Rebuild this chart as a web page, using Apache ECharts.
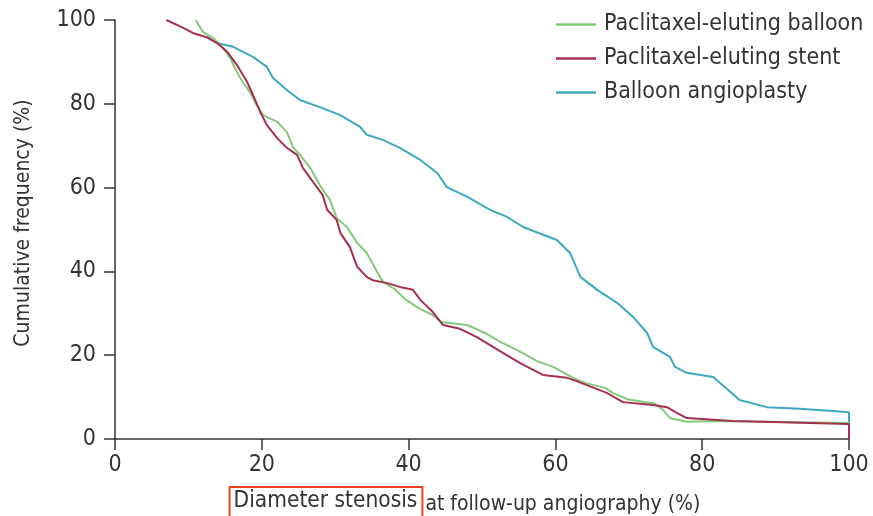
<!DOCTYPE html>
<html>
<head>
<meta charset="utf-8">
<script src="https://cdn.jsdelivr.net/npm/echarts@6/dist/echarts.min.js"></script>
<style>
  html, body { margin: 0; padding: 0; background: #ffffff; }
  #chart { width: 873px; height: 516px; }
</style>
</head>
<body>
<div id="chart"></div>
<script>
// Cumulative frequency of diameter stenosis at follow-up angiography
const seriesNames = ['Paclitaxel-eluting balloon', 'Paclitaxel-eluting stent', 'Balloon angioplasty'];
const axisTicks = [0, 20, 40, 60, 80, 100];

// Paclitaxel-eluting balloon
const balloonX = [11, 12.0, 13.4, 14.7, 15.7, 16.6, 17.4, 18.4, 19.3, 20.2, 22.1, 23.4, 24.3, 25.2, 26.6, 27.9, 29.3, 30.2, 31.6, 33.0, 34.3, 35.7, 36.5, 38.1, 39.5, 41.6, 43.3, 44.4, 48.0, 50.4, 52.5, 54.8, 57.5, 59.7, 62.4, 64.0, 66.8, 67.8, 69.8, 73.6, 74.7, 75.6, 77.9, 82.0, 100, 100];
const balloonY = [100, 97.1, 95.7, 93.3, 90.9, 87.6, 85.2, 82.8, 79.7, 77.3, 75.7, 73.3, 69.5, 67.8, 64.7, 60.6, 57.0, 52.7, 50.6, 46.8, 44.4, 39.9, 37.5, 35.8, 33.4, 31.0, 29.6, 27.9, 27.2, 25.3, 23.2, 21.2, 18.6, 17.2, 14.6, 13.4, 12.2, 11.0, 9.5, 8.4, 6.9, 5.0, 4.1, 4.3, 3.8, 0];

// Paclitaxel-eluting stent
const stentX = [7, 9.3, 10.6, 12.5, 13.9, 15.3, 16.6, 18.0, 18.8, 19.8, 20.7, 22.1, 23.4, 24.8, 25.6, 27.0, 28.3, 28.9, 30.2, 30.7, 32.0, 33.0, 34.3, 35.1, 37.1, 38.8, 40.6, 41.6, 43.3, 44.7, 47.0, 49.3, 52.9, 55.2, 58.3, 61.6, 62.9, 67.0, 69.2, 73.3, 75.2, 76.6, 77.9, 84.2, 100, 100];
const stentY = [100, 98.1, 96.9, 95.9, 94.5, 92.4, 89.3, 85.2, 82.1, 78.0, 74.9, 71.8, 69.5, 67.8, 64.7, 61.3, 58.2, 54.7, 52.3, 49.2, 45.8, 41.1, 38.7, 37.9, 37.2, 36.3, 35.6, 33.2, 30.3, 27.2, 26.3, 24.3, 20.5, 18.1, 15.3, 14.6, 13.8, 11.0, 8.8, 8.1, 7.6, 6.2, 5.0, 4.3, 3.6, 0];

// Balloon angioplasty
const angioX = [12.5, 13.9, 16.1, 18.8, 20.7, 21.5, 23.4, 25.2, 27.9, 30.7, 33.4, 34.3, 36.5, 38.8, 41.6, 43.9, 45.2, 48.0, 51.1, 53.4, 55.6, 60.2, 62.0, 63.4, 65.7, 68.4, 70.6, 72.5, 73.3, 75.6, 76.3, 77.9, 81.5, 82.4, 85.1, 88.8, 93.3, 97.8, 100, 100];
const angioY = [95.9, 94.5, 93.6, 91.2, 88.8, 86.2, 83.3, 80.9, 79.2, 77.3, 74.5, 72.6, 71.4, 69.5, 66.6, 63.5, 60.1, 57.8, 54.7, 53.0, 50.6, 47.5, 44.4, 38.7, 35.6, 32.5, 29.1, 25.3, 22.0, 19.6, 17.2, 15.8, 14.8, 13.4, 9.3, 7.6, 7.2, 6.7, 6.4, 0];

const colors = ['#85c97d', '#a5314f', '#3ea8c1'];
const FONT = "'Liberation Sans Narrow', 'DejaVu Sans Condensed', 'Open Sans', sans-serif";
const TEXT = '#333333';

function zip(xs, ys) { return xs.map((x, i) => [x, ys[i]]); }

const chart = echarts.init(document.getElementById('chart'), null, { renderer: 'canvas' });

const axisCommon = {
  type: 'value',
  min: axisTicks[0],
  max: axisTicks[axisTicks.length - 1],
  interval: axisTicks[1] - axisTicks[0],
  splitLine: { show: false },
  axisLine: { show: true, lineStyle: { color: '#333', width: 1.5 } },
  axisTick: { show: true, inside: false, length: 11, lineStyle: { color: '#333', width: 1.5 } },
  axisLabel: { color: TEXT, fontSize: 23, fontFamily: FONT }
};

chart.setOption({
  backgroundColor: '#ffffff',
  animation: false,
  color: colors,
  grid: { left: 115, right: 24, top: 20, bottom: 77, containLabel: false, outerBoundsMode: 'none' },
  legend: {
    orient: 'vertical',
    left: 551,
    top: 8,
    itemWidth: 40,
    itemHeight: 2.5,
    itemGap: 11,
    icon: 'rect',
    textStyle: { color: TEXT, fontSize: 23, fontFamily: FONT, padding: [0, 0, 0, 3] },
    data: seriesNames
  },
  xAxis: Object.assign({}, axisCommon, {
    axisLabel: Object.assign({}, axisCommon.axisLabel, { margin: 15 }),
    name: '{hl|Diameter stenosis}{rest|at follow-up angiography (%)}',
    nameLocation: 'middle',
    nameGap: 48,
    nameTextStyle: {
      color: TEXT, fontSize: 22, fontFamily: FONT, padding: [0, 34, 0, 0],
      rich: {
        hl: { color: TEXT, fontSize: 22.5, fontFamily: FONT, borderColor: '#f2401c', borderWidth: 2, padding: [3, 5, 10, 4] },
        rest: { color: TEXT, fontSize: 21, fontFamily: FONT, padding: [0, 0, 0, 3] }
      }
    }
  }),
  yAxis: Object.assign({}, axisCommon, {
    axisLabel: Object.assign({}, axisCommon.axisLabel, { margin: 19 }),
    name: 'Cumulative frequency (%)',
    nameLocation: 'middle',
    nameGap: 81,
    nameTextStyle: { color: TEXT, fontSize: 21, fontFamily: FONT, padding: [0, 0, 0, 13] }
  }),
  series: [
    { name: seriesNames[0], type: 'line', data: zip(balloonX, balloonY), symbol: 'none', z: 3, lineStyle: { width: 2, color: colors[0] } },
    { name: seriesNames[1], type: 'line', data: zip(stentX, stentY), symbol: 'none', z: 4, lineStyle: { width: 2, color: colors[1] } },
    { name: seriesNames[2], type: 'line', data: zip(angioX, angioY), symbol: 'none', z: 2, lineStyle: { width: 2, color: colors[2] } }
  ]
});
</script>
</body>
</html>
